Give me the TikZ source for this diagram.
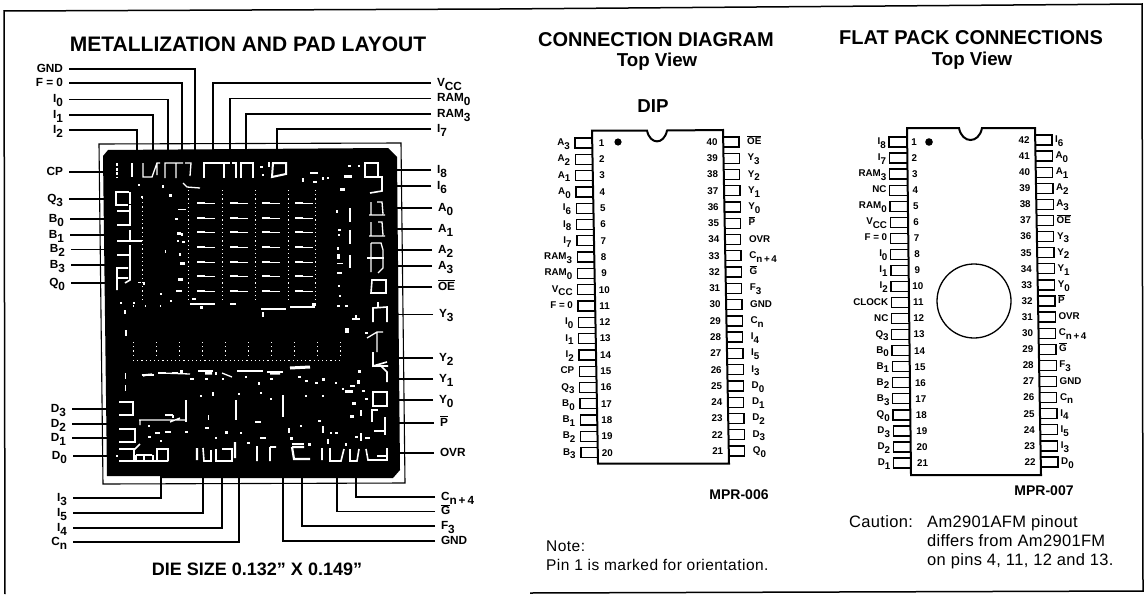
\documentclass[tikz,border=0pt]{standalone}
\usepackage{fontspec}
\setmainfont{Liberation Sans}
\newcommand\pl[2]{#1\raisebox{-.38em}{#2}}
\newcommand\ovl[1]{$\overline{\mbox{#1}}$}
\newcommand\fsz[1]{\fontsize{#1}{#1}\selectfont}
\tikzset{
 lab/.style={font=\fsz{11.8}\bfseries,inner ysep=0pt,inner xsep=3pt,outer xsep=3pt,text height=8pt,text depth=2pt},
 leader/.style={line width=1.3pt},
 pl9/.style={font=\fsz{9.8}\bfseries,inner sep=0pt,text height=7pt,text depth=2pt},
 num/.style={font=\fsz{9.8}\bfseries,inner sep=0pt},
 pinbox/.style={line width=1.3pt},
 body/.style={line width=2pt},
 head/.style={font=\fsz{20}\bfseries,inner sep=0pt},
 sub/.style={font=\fsz{18.7}\bfseries,inner sep=0pt},
 notetxt/.style={font=\fsz{15.5}\addfontfeature{LetterSpace=3},inner sep=0pt,anchor=base west},
 cautxt/.style={font=\fsz{16.5}\addfontfeature{LetterSpace=2},inner sep=0pt,anchor=base west},
 w/.style={white,line width=1.3pt},
 wt/.style={white,line width=2.2pt},
 wd/.style={white,line width=.7pt,dash pattern=on 1.2pt off 3pt},
}
% leaders: left side / right side, horizontal run then vertical run to the die
\newcommand\LL[6]{\node[lab,anchor=east] (#1) at (#3,#4) {#2};\coordinate (#1e) at (#5,#6);\draw[leader] (#1.east) -| (#1e);}
\newcommand\RR[6]{\node[lab,anchor=west] (#1) at (#3,#4) {#2};\coordinate (#1e) at (#5,#6);\draw[leader] (#1.west) -| (#1e);}
\begin{document}
\begin{tikzpicture}[x=1pt,y=-1pt]
\useasboundingbox (0,0) rectangle (1147,594);
\fill[white] (0,0) rectangle (1147,594);
% outer border
\draw[line width=1.5pt] (5,594) -- (4,11) -- (500,9) -- (1142,4) -- (1143,591) -- (530,593);
% titles
\node[head,font=\fsz{21}\bfseries] (t1) at (248,44) {METALLIZATION AND PAD LAYOUT};
\node[head] (t2) at (656,40) {CONNECTION DIAGRAM};
\node[sub] (t3) at (657,62) {Top View};
\node[head] (t4) at (971,38) {FLAT PACK CONNECTIONS};
\node[sub] (t5) at (972,61) {Top View};
\node[sub] (t6) at (653,106) {DIP};
\node[font=\fsz{18}\bfseries,inner sep=0pt] (t7) at (257,569) {DIE SIZE 0.132” X 0.149”};
\node[font=\fsz{14}\bfseries,inner sep=0pt] (t8) at (739,495) {MPR-006};
\node[font=\fsz{14}\bfseries,inner sep=0pt] (t9) at (1044,491) {MPR-007};
\node[notetxt] (n1) at (546,551) {Note:};
\node[notetxt] (n2) at (546,570) {Pin 1 is marked for orientation.};
\node[cautxt] (c0) at (849,527.5) {Caution:};
\node[cautxt] (c1) at (927,527.5) {Am2901AFM pinout};
\node[cautxt] (c2) at (927,546.5) {differs from Am2901FM};
\node[cautxt] (c3) at (927,565.5) {on pins 4, 11, 12 and 13.};
% die frame
\draw[line width=1.1pt] (99,144) -- (401,143) -- (405,483) -- (103,484) -- cycle;
% leaders, top
\LL{aGND}{GND}{69}{69}{195}{151}
\LL{aF}{F = 0}{69}{83}{182}{151}
\LL{aIz}{\pl{I}{0}}{69}{99.5}{168}{151}
\LL{aIo}{\pl{I}{1}}{69}{115}{153}{151}
\LL{aIt}{\pl{I}{2}}{69}{130}{137}{151}
\RR{aV}{\pl{V}{CC}}{431}{83}{213}{151}
\RR{aRz}{\pl{RAM}{0}}{431}{98.5}{230}{151}
\RR{aRt}{\pl{RAM}{3}}{431}{114}{246}{151}
\RR{aIs}{\pl{I}{7}}{431}{129}{277}{151}
% leaders, left
\LL{aCP}{CP}{69}{172}{105}{172}
\LL{aQt}{\pl{Q}{3}}{69}{199}{105}{199}
\LL{aBz}{\pl{B}{0}}{70}{219}{105}{219}
\LL{aBo}{\pl{B}{1}}{70}{235}{105}{235}
\LL{aBt}{\pl{B}{2}}{71}{249.5}{105}{249.5}
\LL{aBh}{\pl{B}{3}}{71}{265}{105}{265}
\LL{aQz}{\pl{Q}{0}}{71}{283}{105}{283}
\LL{aDt}{\pl{D}{3}}{72}{409}{107}{409}
\LL{aDw}{\pl{D}{2}}{72}{424}{107}{424}
\LL{aDo}{\pl{D}{1}}{72}{438}{107}{438}
\LL{aDz}{\pl{D}{0}}{73}{456}{107}{456}
% leaders, right
\RR{aIe}{\pl{I}{8}}{431}{170}{396}{170}
\RR{aIx}{\pl{I}{6}}{431}{186}{396}{186}
\RR{aAz}{\pl{A}{0}}{432}{208}{396}{208}
\RR{aAo}{\pl{A}{1}}{432}{229}{396}{229}
\RR{aAt}{\pl{A}{2}}{432}{250}{396}{250}
\RR{aAh}{\pl{A}{3}}{432}{266}{396}{266}
\RR{aOE}{\ovl{OE}}{432}{287}{396}{287}
\RR{aYh}{\pl{Y}{3}}{433}{314.5}{397}{314.5}
\RR{aYt}{\pl{Y}{2}}{433}{358}{398}{358}
\RR{aYo}{\pl{Y}{1}}{433}{379}{398}{379}
\RR{aYz}{\pl{Y}{0}}{433}{400}{398}{400}
\RR{aP}{\ovl{P}}{434}{423}{398}{423}
\RR{aOVR}{OVR}{434}{453}{398}{453}
% leaders, bottom
\LL{bIh}{\pl{I}{3}}{73}{498}{161}{476}
\LL{bIf}{\pl{I}{5}}{73}{513}{203}{476}
\LL{bIg}{\pl{I}{4}}{73}{528}{222}{476}
\LL{bC}{\pl{C}{n}}{73}{542}{239}{476}
\RR{bCn}{\pl{C}{n\,+\,4}}{435}{497}{356}{476}
\RR{bG}{\ovl{G}}{435}{511.5}{337}{476}
\RR{bF}{\pl{F}{3}}{435}{526}{302}{476}
\RR{bGND}{GND}{435}{541}{283}{476}
% die
\fill[black] (103,156) -- (108,150) -- (388,148) -- (397,157) -- (400,470) -- (393,478) -- (160,478) -- (160,476) -- (107,476) -- cycle;
% top pad row
\draw[w,dash pattern=on 3pt off 1.5pt,line width=2pt] (117,163) -- (117,177);
\draw[wt] (132,163) -- (132,177);
\draw[w] (143,163) -- (143,177) -- (152,177) -- (157,163) -- (160,163) (157,163) -- (157,175);
\draw[w] (170,163) -- (165,163) -- (165,178) (170,163) -- (183,163) (176,163) -- (176,178) (185,163) -- (191,163) -- (190,176);
\draw[w] (217,163) -- (204,163) -- (204,178) (217,163) -- (230,163) (224,163) -- (224,178) (232,163) -- (236,163) -- (236,178);
\draw[w] (250,163) -- (241,163) -- (241,178) (248,163) -- (253,163) -- (253,178);
\draw[w,line width=2pt] (273,163) -- (286,163) -- (286,174) -- (272,177) -- cycle;
% right pads
\draw[w,line width=1.6pt] (365,163) -- (378,163) -- (378,177) -- (365,177) -- cycle;
\draw[w,line width=1.6pt] (370,177) -- (382,177) -- (382,191) -- (370,193);
\draw[w] (371,202) -- (371,214) (377,202) -- (382,202) -- (383,214) (369,215) -- (385,215);
\draw[w] (371,222) -- (371,235) (378,222) -- (382,222) -- (383,235) (369,236) -- (385,236);
\draw[w] (371,243) -- (381,243) -- (383,250) -- (383,268) -- (378,273) (371,243) -- (371,272);
\draw[wt] (367,258) -- (384,258);
\draw[w,line width=1.6pt] (372,280) -- (386,280) -- (386,293) -- (371,293) -- cycle;
\draw[w,line width=1.6pt] (373,322) -- (373,308) -- (387,307) -- (387,322) (378,302) -- (378,307);
\draw[w] (367,338) -- (377,332) -- (383,332) (377,332) -- (377,352);
\draw[w,line width=1.6pt] (373,352) -- (373,366) -- (387,362) (372,366) -- (388,366) (381,366) -- (387,372) -- (387,382);
\draw[w,line width=1.8pt] (373,392) -- (387,392) -- (387,406) -- (373,406) -- cycle;
\draw[w] (372,422) -- (372,410) -- (378,410);
\draw[w,line width=1.5pt] (385,417) -- (385,435) (374,431) -- (385,431);
% vertical bars, right
\draw[w] (350,208) -- (350,222) (350,230) -- (350,244) (350,255) -- (350,268);
% left pads
\draw[w,line width=1.6pt] (129,192) -- (116,192) -- (116,205) -- (128,205) (130,192) -- (130,204);
\draw[w] (117,211) -- (129,211) (130,205) -- (130,226) (130,230) -- (130,240);
\draw[wt] (117,225) -- (129,225) (117,241) -- (130,241) (117,255) -- (130,255);
\draw[w] (130,241) -- (142,241) (130,245) -- (130,270);
\draw[w,line width=1.6pt] (128,268) -- (117,268) -- (117,290) (130,270) -- (130,280) -- (125,283) (117,278) -- (128,278);
% lower left pads
\draw[w,line width=1.6pt] (119,402) -- (133,402) -- (133,415) -- (119,415);
\draw[wt] (119,415) -- (128,415) (119,429) -- (128,429);
\draw[w,line width=1.6pt] (128,429) -- (135,429) -- (135,442) -- (119,442);
\draw[w,line width=1.6pt] (119,449) -- (135,449) (119,461) -- (168,461) (134,461) -- (134,450) -- (140,444) (136,455) -- (152,455) (136,455) -- (136,461) (144,455) -- (144,461) (153,455) -- (153,461) (157,461) -- (157,449) -- (168,449) -- (168,461);
% bottom row
\draw[wt] (197,448) -- (197,460) (235,442) -- (235,458) (292,447) -- (294,459) -- (310,459) (292,447) -- (304,447);
\draw[w,line width=1.6pt] (203,448) -- (204,461) -- (211,461) -- (211,450) (216,449) -- (216,461) -- (232,461) -- (232,449) -- (222,449)
 (257,446) -- (257,461) (270,447) -- (270,461) (270,447) -- (276,447);
\draw[w,line width=1.6pt] (322,448) -- (322,460) (330,448) -- (330,461) -- (341,461) -- (344,449) (350,449) -- (350,461) -- (357,461) -- (359,449) (366,449) -- (368,460) -- (387,460) -- (387,448) (377,456) -- (387,456);
% bright band
\draw[wt] (198,371) -- (213,371) (237,371) -- (263,371) (267,372) -- (283,372);
\draw[w,line width=3pt] (290,368) -- (310,367) (270,373) -- (280,373) (205,373) -- (212,373);
\draw[w] (142,375) -- (152,374) -- (143,376) (160,373) -- (190,374) (222,373) -- (232,377);
\draw[wt] (186,400) -- (186,422) (236,400) -- (236,420) (283,395) -- (283,417);
\draw[w] (139,420) -- (185,420) (170,422) -- (180,418) (140,420) -- (140,425);
% dash grid
\foreach \y in {203,218,232,247,262,276,291}{
 \foreach \x in {197,230,262,295}{
  \draw[w,line width=1.2pt] (\x,\y) -- (\x+8,\y);
  \draw[w,line width=.7pt] (\x+8,\y) -- (\x+18,\y);
 }}
% dotted verticals, upper
\foreach \x in {188,222,255,288,315}{\draw[wd] (\x,190) -- (\x,300);}
\draw[w] (183,183) -- (187,187) -- (200,188);
\draw[wd] (142,198) -- (142,300);
% dotted verticals, lower
\foreach \x in {133,156,179,202,225,248,271,294,317,340}{\draw[wd] (\x,342) -- (\x,356);}
\draw[wd] (133,360) -- (340,360);
% scattered bits
\foreach \x/\y/\u/\v in {
 178/209/8/1.2,169/194/3/3,141/196/2/2,138/184/2/2,162/185/1.5/3,
 175/218/3/2,177/232/4/3,181/233/2/3,182/241/3/2,177/240/2/2,180/262/5/3,179/253/2/3,178/278/5/3,
 176/290/6/2,165/250/1/3,143/282/2/3,138/282/3/1,160/293/2/1.5,120/302/2/2,133/302/2/2,
 190/303/25/1.5,230/303/6/1.5,192/298/4/2,170/300/2/2,200/306/3/3,
 261/308/25/1.5,290/306/25/1.5,262/312/2/5,312/303/4/3,
 268/162/2/5,262/174/2/2,260/166/3/2,302/178/1.5/4,310/172/8/1.5,313/181/4/2,322/177/2/3,327/177/2/2,
 344/175/8/2.5,340/188/5/3,348/165/3/2,358/165/2/2,
 336/210/2/3,338/229/3/2,338/234/2/2,337/254/3/5,337/247/1.5/3,337/263/6/1,337/272/5/2,338/285/2/2,339/295/1.5/2,337/305/3/2,345/305/3/1.5,
 345/328/4/5,352/318/8/1.5,355/315/2/5,365/332/3/2,
 125/330/1.5/6,124/310/1.5/4,133/305/1/2,145/305/1/2,160/305/1/2,
 125/373/1/6,125/385/1/6,
 142/374/12/1.5,158/372/8/2,172/372/6/2,180/370/3/3,190/378/4/2,205/378/3/2,215/372/2/3,222/378/2/2,
 245/376/2/2,258/382/2/3,270/378/3/2,298/376/3/2,305/380/3/2,315/382/3/2,322/378/3/3,335/382/2/2,350/385/5/2,
 345/390/8/3,357/380/3/4,358/370/3/3,362/390/3/2,352/402/4/3,365/398/3/2,360/410/2/6,350/415/4/3,342/388/2/2,
 200/395/2/2,212/392/1.5/4,238/393/2/2,260/392/2/2,270/398/2/2,305/395/2/2,322/395/2/2,
 148/425/2/2,155/432/5/2,165/431/6/1.5,148/436/3/2,160/440/2/2,
 185/431/3/2,205/427/4/1.5,215/437/2/2,225/431/3/3,240/432/2/2,247/442/3/2,260/437/2/2,
 208/415/1/5,172/415/1.5/3,165/414/8/1.5,
 255/421/6/1.5,290/437/3/3,262/437/4/1.5,292/443/12/2,308/443/3/3,327/439/2/5,335/432/3/2,355/436/3/2,360/433/2/8,365/437/5/2,345/443/2/3,
 288/428/1.5/5,300/425/2/2,318/420/3/2,322/426/2/7,330/432/1.5/2,
 116/455/1.5/1.5}{
 \fill[white] (\x,\y) rectangle ++(\u,\v);
}
% ---------- DIP ----------
\draw[body] (592,130.5) -- (647,130.5) .. controls (650,145) and (664,145) .. (667,130.5) -- (723,130) -- (729,463.5) -- (598,463.5) -- cycle;
\fill (618,142) circle (3.6);
\foreach \t [count=\i] in {{\pl{A}{3}},{\pl{A}{2}},{\pl{A}{1}},{\pl{A}{0}},{\pl{I}{6}},{\pl{I}{8}},{\pl{I}{7}},{\pl{RAM}{3}},{\pl{RAM}{0}},{\pl{V}{CC}},F = 0,{\pl{I}{0}},{\pl{I}{1}},{\pl{I}{2}},CP,{\pl{Q}{3}},{\pl{B}{0}},{\pl{B}{1}},{\pl{B}{2}},{\pl{B}{3}}}{
 \pgfmathsetmacro\yy{143+(\i-1)*16.3}
 \pgfmathsetmacro\xb{592+(\i-1)*0.31}
 \draw[pinbox] (\xb,\yy-5) -- (\xb-17,\yy-5) -- (\xb-17,\yy+5) -- (\xb,\yy+5);
 \node[pl9,anchor=east] (dl\i) at (\xb-22,\yy) {\t};
 \node[num] (dln\i) at (\xb+9.5,\yy) {\i};
}
\foreach \t [count=\i] in {{\ovl{OE}},{\pl{Y}{3}},{\pl{Y}{2}},{\pl{Y}{1}},{\pl{Y}{0}},{\ovl{P}},OVR,{\pl{C}{n\,+\,4}},{\ovl{G}},{\pl{F}{3}},GND,{\pl{C}{n}},{\pl{I}{4}},{\pl{I}{5}},{\pl{I}{3}},{\pl{D}{0}},{\pl{D}{1}},{\pl{D}{2}},{\pl{D}{3}},{\pl{Q}{0}}}{
 \pgfmathsetmacro\yy{142+(\i-1)*16.26}
 \pgfmathsetmacro\xb{723+(\i-1)*0.3}
 \pgfmathtruncatemacro\nn{41-\i}
 \draw[pinbox] (\xb,\yy-5) -- (\xb+16,\yy-5) -- (\xb+16,\yy+5) -- (\xb,\yy+5);
 \node[pl9,anchor=west] (dr\i) at (\xb+24,\yy) {\t};
 \node[num] (drn\i) at (\xb-11,\yy) {\nn};
}
% ---------- flat pack ----------
\draw[body] (907,128) -- (959,128) .. controls (962,144) and (979,144) .. (982,128) -- (1035,128) -- (1041,475) -- (911,475) -- cycle;
\fill (929,142) circle (3.8);
\draw[line width=1.3pt] (974,301) circle (37);
\foreach \t [count=\i] in {{\pl{I}{8}},{\pl{I}{7}},{\pl{RAM}{3}},NC,{\pl{RAM}{0}},{\pl{V}{CC}},F = 0,{\pl{I}{0}},{\pl{I}{1}},{\pl{I}{2}},CLOCK,NC,{\pl{Q}{3}},{\pl{B}{0}},{\pl{B}{1}},{\pl{B}{2}},{\pl{B}{3}},{\pl{Q}{0}},{\pl{D}{3}},{\pl{D}{2}},{\pl{D}{1}}}{
 \pgfmathsetmacro\yy{142+(\i-1)*16.05}
 \pgfmathsetmacro\xb{907+(\i-1)*0.23}
 \pgfmathsetmacro\xn{\xb+7+(\i-1)*0.2}
 \draw[pinbox] (\xb,\yy-5) -- (\xb-18,\yy-5) -- (\xb-18,\yy+5) -- (\xb,\yy+5);
 \node[pl9,anchor=east] (fl\i) at (\xb-21,\yy) {\t};
 \node[num] (fln\i) at (\xn,\yy) {\i};
}
\foreach \t [count=\i] in {{\pl{I}{6}},{\pl{A}{0}},{\pl{A}{1}},{\pl{A}{2}},{\pl{A}{3}},{\ovl{OE}},{\pl{Y}{3}},{\pl{Y}{2}},{\pl{Y}{1}},{\pl{Y}{0}},{\ovl{P}},OVR,{\pl{C}{n\,+\,4}},{\ovl{G}},{\pl{F}{3}},GND,{\pl{C}{n}},{\pl{I}{4}},{\pl{I}{5}},{\pl{I}{3}},{\pl{D}{0}}}{
 \pgfmathsetmacro\yy{140+(\i-1)*16.1}
 \pgfmathsetmacro\xb{1035+(\i-1)*0.3}
 \pgfmathtruncatemacro\nn{43-\i}
 \draw[pinbox] (\xb,\yy-5) -- (\xb+17,\yy-5) -- (\xb+17,\yy+5) -- (\xb,\yy+5);
 \node[pl9,anchor=west] (fr\i) at (\xb+20,\yy) {\t};
 \node[num] (frn\i) at (\xb-11,\yy) {\nn};
}
\end{tikzpicture}
\end{document}
